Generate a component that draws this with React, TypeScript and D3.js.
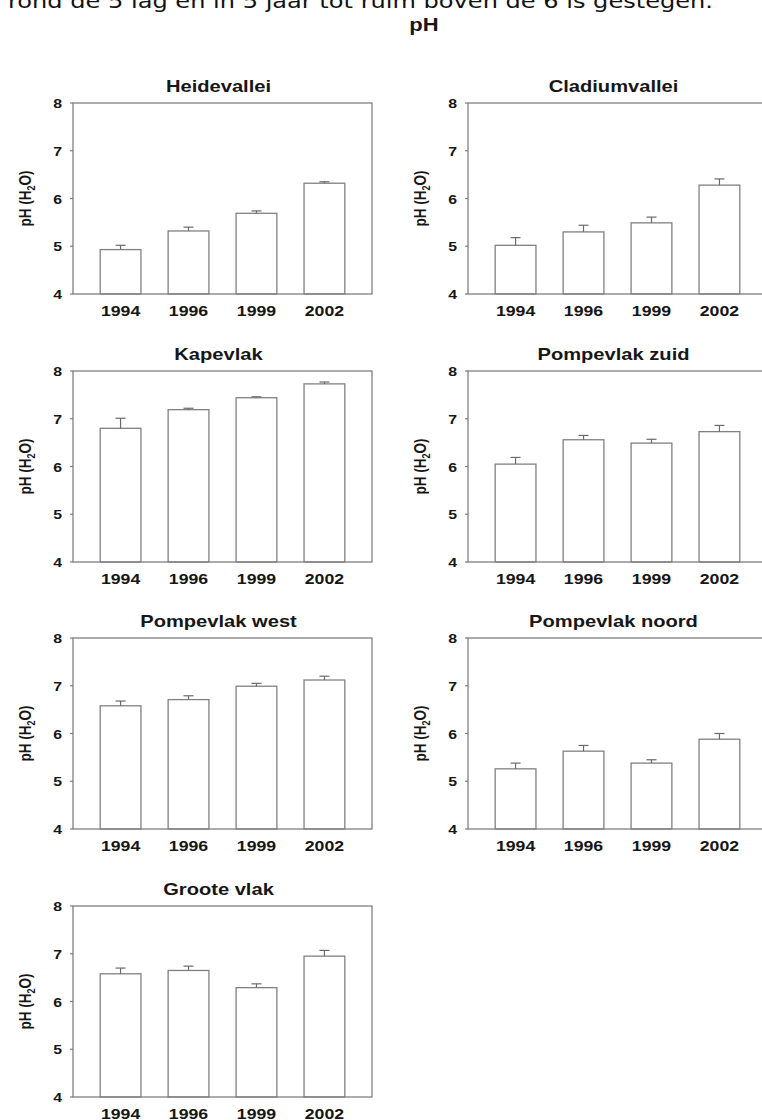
import React from "react";
import * as d3 from "d3";

// Sampling years on the x axis
const years = ["1994", "1996", "1999", "2002"];

// Site names, in reading order (left column, right column, row by row)
const sites = [
  "Heidevallei",
  "Cladiumvallei",
  "Kapevlak",
  "Pompevlak zuid",
  "Pompevlak west",
  "Pompevlak noord",
  "Groote vlak",
];

// Mean pH (H2O) per site and year
const heidevalleiMean = [4.93, 5.32, 5.69, 6.32];
const cladiumvalleiMean = [5.02, 5.3, 5.49, 6.28];
const kapevlakMean = [6.8, 7.19, 7.44, 7.73];
const pompevlakZuidMean = [6.05, 6.56, 6.49, 6.73];
const pompevlakWestMean = [6.58, 6.71, 6.99, 7.12];
const pompevlakNoordMean = [5.26, 5.63, 5.38, 5.88];
const grooteVlakMean = [6.58, 6.65, 6.29, 6.95];

// Standard error per site and year (upper whisker)
const heidevalleiErr = [0.09, 0.08, 0.05, 0.03];
const cladiumvalleiErr = [0.16, 0.14, 0.12, 0.13];
const kapevlakErr = [0.21, 0.03, 0.02, 0.04];
const pompevlakZuidErr = [0.14, 0.09, 0.08, 0.13];
const pompevlakWestErr = [0.1, 0.08, 0.06, 0.08];
const pompevlakNoordErr = [0.12, 0.12, 0.07, 0.12];
const grooteVlakErr = [0.12, 0.09, 0.08, 0.12];

const yTicks = [4, 5, 6, 7, 8];

const means = [
  heidevalleiMean,
  cladiumvalleiMean,
  kapevlakMean,
  pompevlakZuidMean,
  pompevlakWestMean,
  pompevlakNoordMean,
  grooteVlakMean,
];
const errs = [
  heidevalleiErr,
  cladiumvalleiErr,
  kapevlakErr,
  pompevlakZuidErr,
  pompevlakWestErr,
  pompevlakNoordErr,
  grooteVlakErr,
];

const WIDTH = 762;
const HEIGHT = 1120;
const colX = [73, 468];
const rowY = [103, 371, 638, 906];
const PW = 299;
const PH = 191;
const SX = 1.22; // horizontal stretch of the figure lettering

const FONT = "'Liberation Sans', Arial, Helvetica, sans-serif";
const LINE = "#808080";
const TEXT = "#161616";

function Panel({ idx }: { idx: number }) {
  const col = idx % 2;
  const row = Math.floor(idx / 2);
  const x0 = colX[col];
  const y0 = rowY[row];

  const x = d3
    .scaleBand<string>()
    .domain(years)
    .range([x0, x0 + PW])
    .paddingInner(0.4)
    .paddingOuter(0.4);
  const y = d3.scaleLinear().domain([4, 8]).range([y0 + PH, y0]);

  const m = means[idx];
  const e = errs[idx];
  const bw = x.bandwidth();
  const cap = 5;

  return (
    <g>
      {/* title */}
      <text
        transform={`translate(${x0 + PW / 2 - 4},${y0 - 11}) scale(${SX},1)`}
        textAnchor="middle"
        fontFamily={FONT}
        fontWeight="bold"
        fontSize={16.5}
        fill={TEXT}
      >
        {sites[idx]}
      </text>

      {/* y axis title */}
      <text
        transform={`translate(${x0 - 42},${y0 + PH / 2}) scale(${SX},1) rotate(-90)`}
        textAnchor="middle"
        fontFamily={FONT}
        fontWeight="bold"
        fontSize={13.5}
        fill={TEXT}
      >
        pH (H
        <tspan fontSize={9} dy={3}>
          2
        </tspan>
        <tspan dy={-3}>O)</tspan>
      </text>

      {/* bars */}
      {years.map((yr, i) => (
        <rect
          key={yr}
          x={x(yr)}
          y={y(m[i])}
          width={bw}
          height={y(4) - y(m[i])}
          fill="#fff"
          stroke={LINE}
          strokeWidth={1.3}
        />
      ))}

      {/* error bars */}
      {years.map((yr, i) => {
        const cx = (x(yr) as number) + bw / 2;
        return (
          <g key={yr} stroke="#6a6a6a" strokeWidth={1.2}>
            <line x1={cx} x2={cx} y1={y(m[i])} y2={y(m[i] + e[i])} />
            <line x1={cx - cap} x2={cx + cap} y1={y(m[i] + e[i])} y2={y(m[i] + e[i])} />
          </g>
        );
      })}

      {/* frame */}
      <rect x={x0} y={y0} width={PW} height={PH} fill="none" stroke={LINE} strokeWidth={1.3} />

      {/* y ticks and labels */}
      {yTicks.map((t) => (
        <g key={t}>
          <line x1={x0 - 3} x2={x0} y1={y(t)} y2={y(t)} stroke={LINE} strokeWidth={1.2} />
          <text
            transform={`translate(${x0 - 11},${y(t) + 5}) scale(${SX},1)`}
            textAnchor="end"
            fontFamily={FONT}
            fontWeight="bold"
            fontSize={13}
            fill={TEXT}
          >
            {t}
          </text>
        </g>
      ))}

      {/* x labels */}
      {years.map((yr) => (
        <text
          key={yr}
          transform={`translate(${(x(yr) as number) + bw / 2},${y0 + PH + 22}) scale(${SX},1)`}
          textAnchor="middle"
          fontFamily={FONT}
          fontWeight="bold"
          fontSize={14.5}
          fill={TEXT}
        >
          {yr}
        </text>
      ))}
    </g>
  );
}

export default function App() {
  return (
    <svg
      width={WIDTH}
      height={HEIGHT}
      viewBox={`0 0 ${WIDTH} ${HEIGHT}`}
      style={{ position: "absolute", left: 0, top: 0, background: "#fff" }}
    >
      <rect width={WIDTH} height={HEIGHT} fill="#fff" />
      <text
        x={8}
        y={7.5}
        fontFamily="'DejaVu Sans', Verdana, sans-serif"
        fontSize={20}
        fill="#111"
        textLength={705}
        lengthAdjust="spacingAndGlyphs"
      >
        rond de 5 lag en in 5 jaar tot ruim boven de 6 is gestegen.
      </text>
      <text
        transform={`translate(424,31) scale(${SX},1)`}
        textAnchor="middle"
        fontFamily={FONT}
        fontWeight="bold"
        fontSize={18}
        fill={TEXT}
      >
        pH
      </text>
      {sites.map((s, i) => (
        <Panel key={s} idx={i} />
      ))}
    </svg>
  );
}
